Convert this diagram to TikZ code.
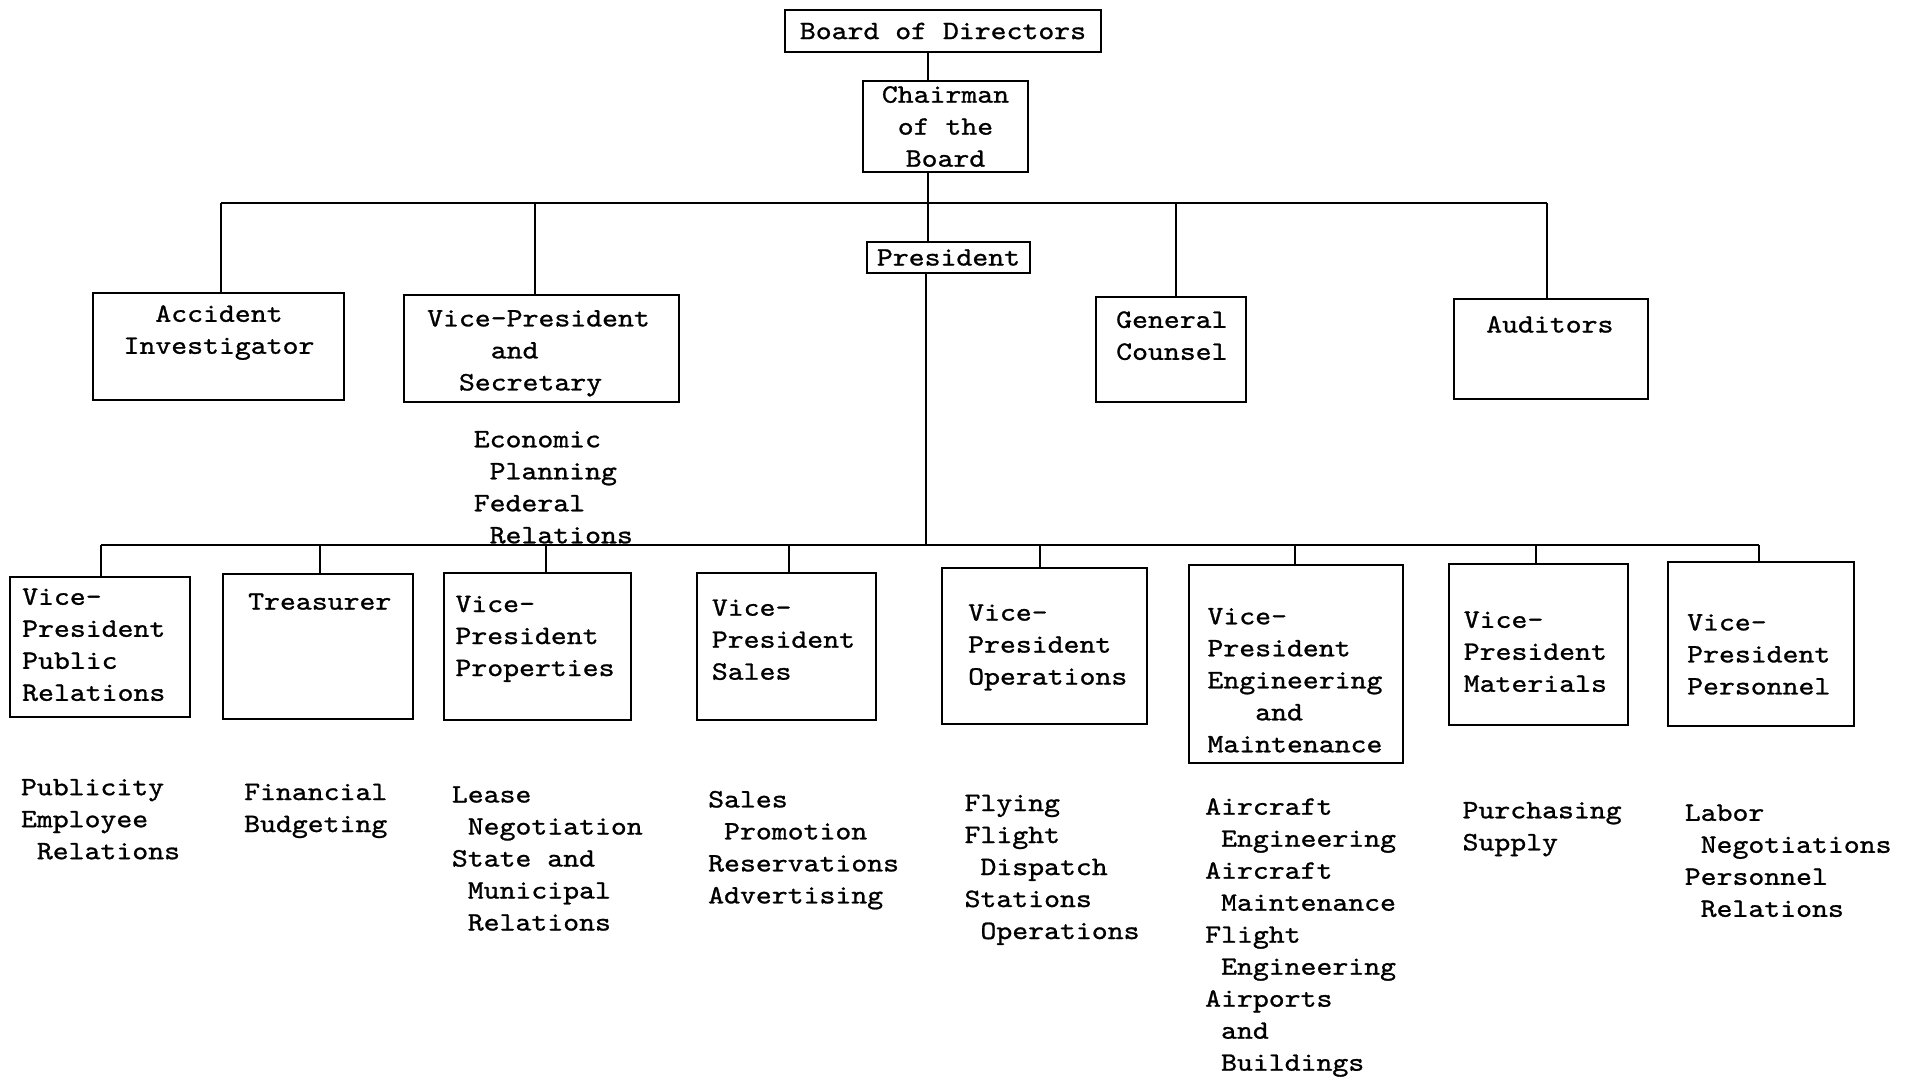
\documentclass[tikz,border=0pt]{standalone}
\usepackage{fontspec}
\newfontfamily\tw{lmmono10-regular.otf}[FakeStretch=1.143,FakeBold=1]
\newlength\cw \setlength\cw{15.9pt}
\newcommand\myind[1]{\hspace*{#1\cw}}
\newcommand\fs{\rule{0pt}{20pt}}
\tikzset{
  box/.style={draw, line width=1.6pt, rectangle, inner sep=0pt, font=\tw\fontsize{26.5}{32}\selectfont},
  txt/.style={inner sep=0pt, anchor=north west, align=left, font=\tw\fontsize{26.5}{32}\selectfont},
  txtc/.style={txt, anchor=north, align=center},
  conn/.style={line width=1.2pt}
}
\begin{document}
\begin{tikzpicture}[x=1pt,y=-1pt]
\useasboundingbox[fill=white] (0,0) rectangle (1914,1080);
% top boxes
\node[box, minimum width=316pt, minimum height=42pt] (bod) at (943,31) {Board of Directors};
\node[box, align=center, minimum width=165pt, minimum height=91pt] (chair) at (945.5,126.5) {Chairman\\of the\\Board};
\node[box, minimum width=163pt, minimum height=31pt] (pres) at (948.5,257.5) {President};
\node[box, minimum width=251pt, minimum height=107pt] (ai) at (218.5,346.5) {};
\node[box, minimum width=275pt, minimum height=107pt] (vps) at (541.5,348.5) {};
\node[box, minimum width=150pt, minimum height=105pt] (gc) at (1171,349.5) {};
\node[box, minimum width=194pt, minimum height=100pt] (aud) at (1551,349) {};
% top box texts
\node[txtc] (aitx) at (219,301.6) {\fs Accident\\Investigator};
\node[txt] (vpstx) at (427,306.2) {\fs Vice-President\\\myind4and\\\myind2Secretary};
\node[txt] (gctx) at (1116,307.6) {\fs General\\Counsel};
\node[txt] (audtx) at (1486,312.3) {\fs Auditors};
\node[txt] (econ) at (473.6,427.1) {\fs Economic\\\myind1Planning\\Federal\\\myind1Relations};
% lower boxes
\node[box, minimum width=180pt, minimum height=140pt] (pr) at (100,647) {};
\node[box, minimum width=190pt, minimum height=145pt] (tre) at (318,646.5) {};
\node[box, minimum width=187pt, minimum height=147pt] (prop) at (537.5,646.5) {};
\node[box, minimum width=179pt, minimum height=147pt] (sal) at (786.5,646.5) {};
\node[box, minimum width=205pt, minimum height=156pt] (ops) at (1044.5,646) {};
\node[box, minimum width=214pt, minimum height=198pt] (eng) at (1296,664) {};
\node[box, minimum width=179pt, minimum height=161pt] (mat) at (1538.5,644.5) {};
\node[box, minimum width=186pt, minimum height=164pt] (pers) at (1761,644) {};
% lower box texts
\node[txt] (prtx) at (22,584.6) {\fs Vice-\\President\\Public\\Relations};
\node[txt] (tretx) at (248,589.4) {\fs Treasurer};
\node[txt] (proptx) at (455.3,591.8) {\fs Vice-\\President\\Properties};
\node[txt] (saltx) at (711.7,595.5) {\fs Vice-\\President\\Sales};
\node[txt] (opstx) at (968,600.4) {\fs Vice-\\President\\Operations};
\node[txt] (engtx) at (1207.3,604.1) {\fs Vice-\\President\\Engineering\\\myind3and\\Maintenance};
\node[txt] (mattx) at (1463.6,607.6) {\fs Vice-\\President\\Materials};
\node[txt] (perstx) at (1687,610.2) {\fs Vice-\\President\\Personnel};
% functions below
\node[txt] (pub) at (20.8,775) {\fs Publicity\\Employee\\\myind1Relations};
\node[txt] (fin) at (244,779.8) {\fs Financial\\Budgeting};
\node[txt] (lease) at (451.7,782.3) {\fs Lease\\\myind1Negotiation\\State and\\\myind1Municipal\\\myind1Relations};
\node[txt] (salx) at (708,787.2) {\fs Sales\\\myind1Promotion\\Reservations\\Advertising};
\node[txt] (fly) at (964.4,790.8) {\fs Flying\\Flight\\\myind1Dispatch\\Stations\\\myind1Operations};
\node[txt] (air) at (1205,794.5) {\fs Aircraft\\\myind1Engineering\\Aircraft\\\myind1Maintenance\\Flight\\\myind1Engineering\\Airports\\\myind1and\\\myind1Buildings};
\node[txt] (pur) at (1462.4,798.1) {\fs Purchasing\\Supply};
\node[txt] (labor) at (1684.6,800.6) {\fs Labor\\\myind1Negotiations\\Personnel\\\myind1Relations};
% connectors
\coordinate (spine) at (928,203);
\coordinate (bus) at (926,545);
\draw[conn] (bod.south -| spine) -- (chair.north -| spine);
\draw[conn] (chair.south -| spine) -- (pres.north -| spine);
\draw[conn] (pres.south -| bus) -- (bus);
\draw[conn] ([xshift=2.5pt]ai.north |- spine) -- ([xshift=-4pt]aud.north |- spine);
\foreach \n/\s in {ai/2.5,vps/-6.5,gc/5,aud/-4}
  \draw[conn] ([xshift=\s pt]\n.north) -- ([xshift=\s pt]\n.north |- spine);
\draw[conn] ([xshift=1pt]pr.north |- bus) -- ([xshift=-2pt]pers.north |- bus);
\foreach \n/\s in {pr/1,tre/2,prop/8.5,sal/2.5,ops/-4.5,eng/-1,mat/-2.5,pers/-2}
  \draw[conn] ([xshift=\s pt]\n.north) -- ([xshift=\s pt]\n.north |- bus);
\end{tikzpicture}
\end{document}
